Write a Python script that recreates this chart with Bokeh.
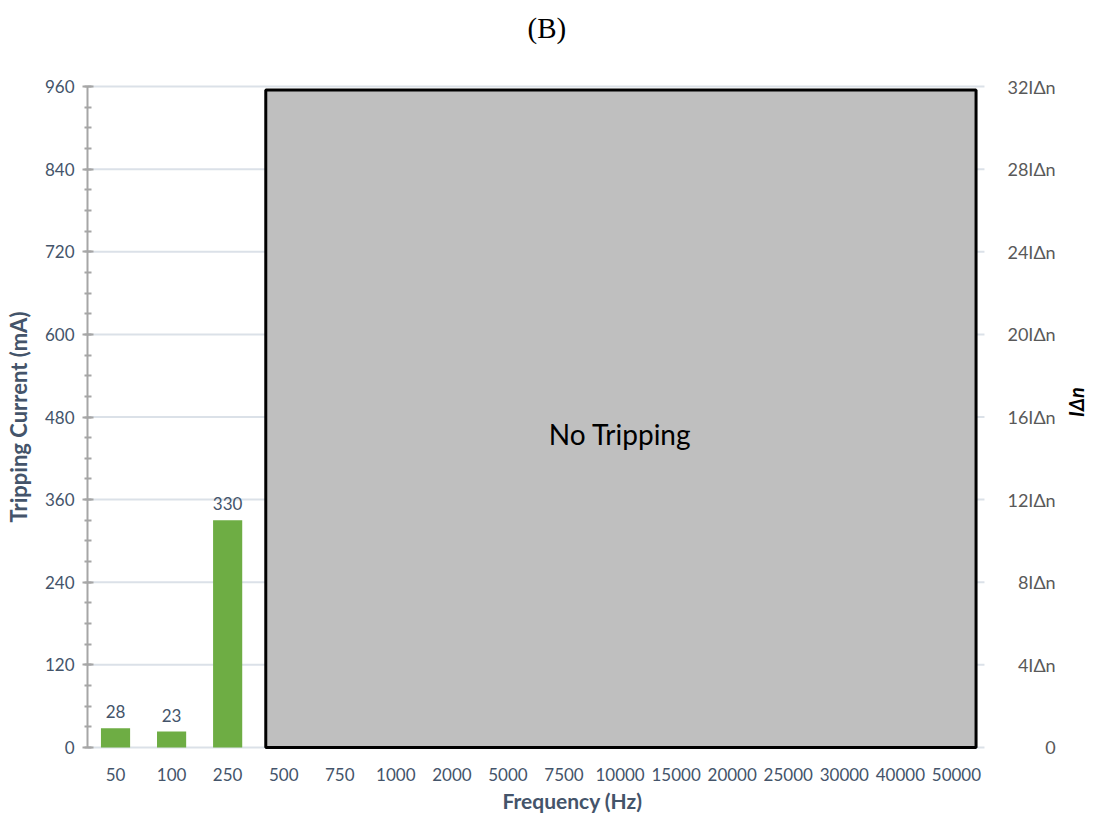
import math
from bokeh.plotting import figure
from bokeh.models import Range1d, LinearAxis, FixedTicker, ColumnDataSource, Title
from bokeh.core.properties import value
from bokeh.embed import file_html
from bokeh.resources import INLINE

# ---------------- data ----------------
categories = ["50", "100", "250", "500", "750", "1000", "2000", "5000", "7500",
              "10000", "15000", "20000", "25000", "30000", "40000", "50000"]
bar_categories = ["50", "100", "250"]
bar_values = [28, 23, 330]
y_ticks = [0, 120, 240, 360, 480, 600, 720, 840, 960]
y_minor_ticks = list(range(0, 961, 30))
right_tick_labels = ["0", "4IΔn", "8IΔn", "12IΔn", "16IΔn", "20IΔn",
                     "24IΔn", "28IΔn", "32IΔn"]
no_trip_first = "500"
no_trip_last = "50000"
no_trip_top = 955
no_trip_text = "No Tripping"
no_trip_text_y = 455

FONT = "Lato"
SLATE = "#44546a"

# category positions 1..N on a numeric scale
pos = {c: i + 1 for i, c in enumerate(categories)}
n = len(categories)
unit_px = 56.06
frame_w = 970
x_start = 0.5
x_end = x_start + frame_w / unit_px
y_min, y_max = y_ticks[0], y_ticks[-1]
y_pad = 17.5  # room so the outer right-hand labels are not clipped

p = figure(x_range=Range1d(x_start, x_end), y_range=Range1d(y_min - y_pad, y_max + y_pad),
           frame_width=frame_w, frame_height=685, output_backend="svg",
           toolbar_location=None,
           min_border_left=87, min_border_right=0, min_border_top=74,
           min_border_bottom=4, outline_line_color=None)

# spacer between the title and the frame
p.add_layout(Title(text=" ", text_font_size="1px", standoff=28), "above")

p.title.text = "(B)"
p.title.align = "left"
p.title.offset = 440
p.title.text_font = "Liberation Serif"
p.title.text_font_size = "29px"
p.title.text_font_style = "normal"
p.title.text_color = "black"
p.title.standoff = 0

# no built-in grid; gridlines only across the category area
p.xgrid.visible = False
p.ygrid.visible = False
p.segment(x0=[x_start] * len(y_ticks), x1=[n + 0.5] * len(y_ticks),
          y0=y_ticks, y1=y_ticks, line_color="#dbe1e8", line_width=2)

# left axis
ya = p.yaxis[0]
ya.bounds = (y_min, y_max)
ya.ticker = FixedTicker(ticks=y_ticks, minor_ticks=y_minor_ticks)
ya.axis_line_color = "#a6a6a6"
ya.axis_line_width = 2
ya.major_tick_line_color = "#a6a6a6"
ya.major_tick_line_width = 2
ya.major_tick_in = 6
ya.major_tick_out = 5
ya.minor_tick_line_color = "#a6a6a6"
ya.minor_tick_line_width = 2
ya.minor_tick_in = 4
ya.minor_tick_out = 3
ya.major_label_text_font = FONT
ya.major_label_text_font_size = "17px"
ya.major_label_text_color = SLATE
ya.major_label_standoff = 8
ya.axis_label = "Tripping Current (mA)"
ya.axis_label_text_font = FONT
ya.axis_label_text_font_size = "22px"
ya.axis_label_text_font_style = "bold"
ya.axis_label_text_color = SLATE
ya.axis_label_standoff = 10

# bottom axis with category labels
xa = p.xaxis[0]
xa.ticker = FixedTicker(ticks=[pos[c] for c in categories])
xa.major_label_overrides = {pos[c]: c for c in categories}
xa.axis_line_color = None
xa.major_tick_line_color = None
xa.minor_tick_line_color = None
xa.major_label_text_font = FONT
xa.major_label_text_font_size = "17px"
xa.major_label_text_color = SLATE
xa.major_label_standoff = 2
xa.axis_label = "Frequency (Hz)"
xa.axis_label_text_font = FONT
xa.axis_label_text_font_size = "21px"
xa.axis_label_text_font_style = "bold"
xa.axis_label_text_color = SLATE
xa.axis_label_standoff = 4

# right axis: only carries the title
ra = LinearAxis(ticker=FixedTicker(ticks=[]))
ra.axis_line_color = None
ra.major_tick_line_color = None
ra.minor_tick_line_color = None
ra.major_label_text_font_size = "0px"
ra.major_label_standoff = 0
ra.axis_label = "IΔn"
ra.axis_label_text_font = FONT
ra.axis_label_text_font_size = "20px"
ra.axis_label_text_font_style = "bold italic"
ra.axis_label_text_color = "black"
ra.axis_label_standoff = 18
if "axis_label_orientation" in ra.properties():
    ra.axis_label_orientation = math.pi / 2
p.add_layout(ra, "right")

# right-hand tick labels, right-aligned
p.text(x=[n + 1.77] * len(y_ticks), y=y_ticks, text=right_tick_labels,
       text_align="right", text_baseline="middle",
       text_font=value(FONT), text_font_size="18px", text_color="#595959")

# "No Tripping" region
left_edge = pos[no_trip_first] - 0.5 + 0.18
right_edge = pos[no_trip_last] + 0.5 - 0.15
p.quad(left=[left_edge], right=[right_edge], bottom=[0], top=[no_trip_top],
       fill_color="#bfbfbf", line_color="black", line_width=3)

# bars
src = ColumnDataSource(dict(x=[pos[c] for c in bar_categories], top=bar_values,
                            label=[str(v) for v in bar_values]))
p.vbar(x="x", top="top", width=0.52, source=src,
       fill_color="#6ead44", line_color=None)
p.text(x="x", y="top", text="label", source=src, y_offset=-10,
       text_align="center", text_baseline="bottom",
       text_font=value(FONT), text_font_size="17px", text_color=SLATE)

p.text(x=[pos["10000"]], y=[no_trip_text_y], text=[no_trip_text],
       text_align="center", text_baseline="middle",
       text_font=value(FONT), text_font_size="28px", text_color="black")

open("out.html", "w").write(file_html(p, INLINE))
